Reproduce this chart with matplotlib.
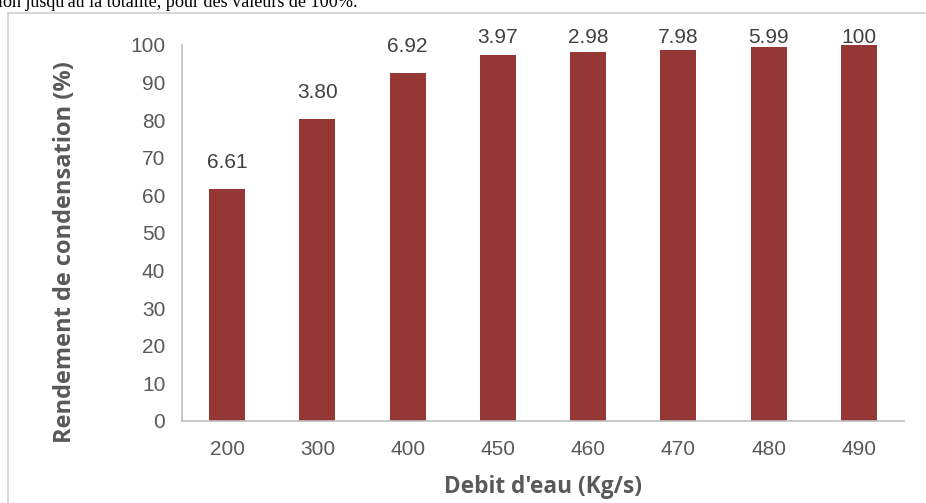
import matplotlib.pyplot as plt
from matplotlib.lines import Line2D

# Rendement de condensation en fonction du debit d'eau
debits = ['200', '300', '400', '450', '460', '470', '480', '490']
rendements = [61.6, 80.3, 92.6, 97.3, 98.2, 98.7, 99.5, 100]
etiquettes = ['6.61', '3.80', '6.92', '3.97', '2.98', '7.98', '5.99', '100']

W, H = 926, 503
fig = plt.figure(figsize=(W / 100, H / 100), dpi=100)
fig.patch.set_facecolor('white')

# bout de texte du document au-dessus du graphique
fig.text(-2 / W, 1 - 7 / H, "ion jusqu'au la totalité, pour des valeurs de 100%.",
         family='Liberation Serif', fontsize=13.1, color='black',
         ha='left', va='baseline')

# cadre de la zone graphique (bords gauche et haut)
cadre = dict(transform=fig.transFigure, color='#d4d4d4', linewidth=1.3)
fig.add_artist(Line2D([8 / W, 8 / W], [0, 1 - 13 / H], **cadre))
fig.add_artist(Line2D([8 / W, 1], [1 - 13 / H, 1 - 13 / H], **cadre))

ax = fig.add_axes([182 / W, 1 - 421 / H, 722 / W, 376 / H])
x = range(len(debits))
ax.bar(x, rendements, width=0.4, color='#953735')
ax.set_xlim(-0.5, len(debits) - 0.5)
ax.set_ylim(0, 100)
ax.set_yticks(range(0, 101, 10))
ax.set_xticks(list(x))
ax.set_xticklabels(debits)

for s in ['top', 'right']:
    ax.spines[s].set_visible(False)
for s in ['left', 'bottom']:
    ax.spines[s].set_color('#bfbfbf')
    ax.spines[s].set_linewidth(1.2)

ax.tick_params(length=0, labelsize=15, labelcolor='#595959',
               labelfontfamily='Liberation Sans')
ax.tick_params(axis='y', pad=12)
ax.tick_params(axis='x', pad=14)

# etiquettes au-dessus des barres, bloquees en haut de la zone
for i, (v, lab) in enumerate(zip(rendements, etiquettes)):
    y = min(v + 5.6, 100.5)
    ax.text(i, y, lab, ha='center', va='baseline', fontsize=15,
            color='#404040', family='Liberation Sans', clip_on=False)

fig.text(543 / W, 1 - 493 / H, "Debit d'eau (Kg/s)", ha='center', va='baseline',
         fontsize=16.3, fontweight='bold', color='#595959', family='Open Sans')
fig.text(71 / W, 1 - 252 / H, 'Rendement de condensation (%)', ha='center',
         va='baseline', rotation=90, rotation_mode='anchor', fontsize=17,
         fontweight='bold', color='#595959', family='Open Sans')

fig.savefig('out.png', dpi=100)
